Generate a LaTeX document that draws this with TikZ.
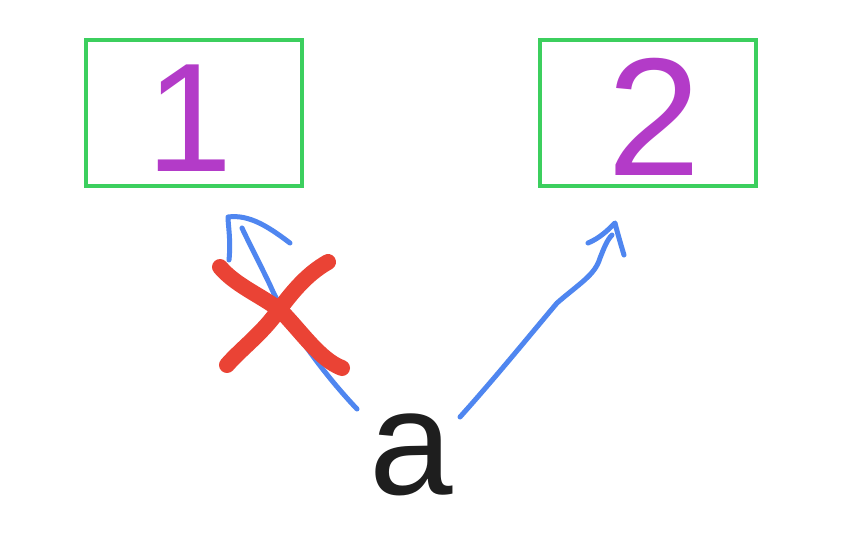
\documentclass[tikz,border=0pt]{standalone}
\usepackage{fontspec}
\setmainfont{Liberation Sans}
\definecolor{boxgreen}{HTML}{3CCF5E}
\definecolor{numpurple}{HTML}{B33BC8}
\definecolor{penblue}{HTML}{4F86F0}
\definecolor{penred}{HTML}{EA4335}
\definecolor{inkblack}{HTML}{1E1E1E}
\begin{document}
\begin{tikzpicture}[x=1pt,y=-1pt,
  box/.style={draw=boxgreen,line width=3.5pt,minimum width=216pt,minimum height=146pt,inner sep=0pt},
  num/.style={text=numpurple,inner sep=0pt,anchor=base},
  pen/.style={penblue,line width=5pt,line cap=round,line join=round},
  cross/.style={penred,line width=16pt,line cap=round,line join=round}]
\useasboundingbox (0,0) rectangle (864,544);
\fill[white] (0,0) rectangle (864,544);
\node[box] (b1) at (194,113) {};
\node[box] (b2) at (648,113) {};
\node[num,font=\fontsize{155}{155}\selectfont] (n1) at (190,171) {1};
\node[num,font=\fontsize{168}{168}\selectfont] (n2) at (654,175) {2};
\node[text=inkblack,inner sep=0pt,anchor=base,font=\fontsize{150}{150}\selectfont] (a) at (411,494) {a};
% left arrow
\coordinate (s1) at (357,409);
\coordinate (t1) at (242,228);
\coordinate (h1a) at (229,260);
\coordinate (h1b) at (228,217);
\coordinate (h1c) at (290,243);
\draw[pen] (s1) .. controls (320,370) and (285,320) .. (270,285) .. controls (258,260) and (250,245) .. (t1);
\draw[pen] (h1a) .. controls (231,240) and (228,225) .. (h1b) .. controls (250,214) and (270,228) .. (h1c);
% right arrow
\coordinate (s2) at (460,417);
\coordinate (t2) at (612,235);
\coordinate (h2a) at (588,243);
\coordinate (h2b) at (615,223);
\coordinate (h2c) at (624,255);
\draw[pen] (s2) .. controls (495,378) and (530,335) .. (557,303) .. controls (580,283) and (595,275) .. (600,258) .. controls (604,248) and (607,240) .. (t2);
\draw[pen] (h2a) .. controls (600,238) and (608,230) .. (h2b) .. controls (618,235) and (621,245) .. (h2c);
% red cross
\coordinate (x1a) at (220,267);
\coordinate (x1b) at (342,368);
\coordinate (x2a) at (328,262);
\coordinate (x2b) at (227,365);
\draw[cross] (x1a) .. controls (235,285) and (260,295) .. (280,310) .. controls (300,330) and (320,360) .. (x1b);
\draw[cross] (x2a) .. controls (305,275) and (290,295) .. (275,315) .. controls (260,335) and (240,350) .. (x2b);
\end{tikzpicture}
\end{document}
